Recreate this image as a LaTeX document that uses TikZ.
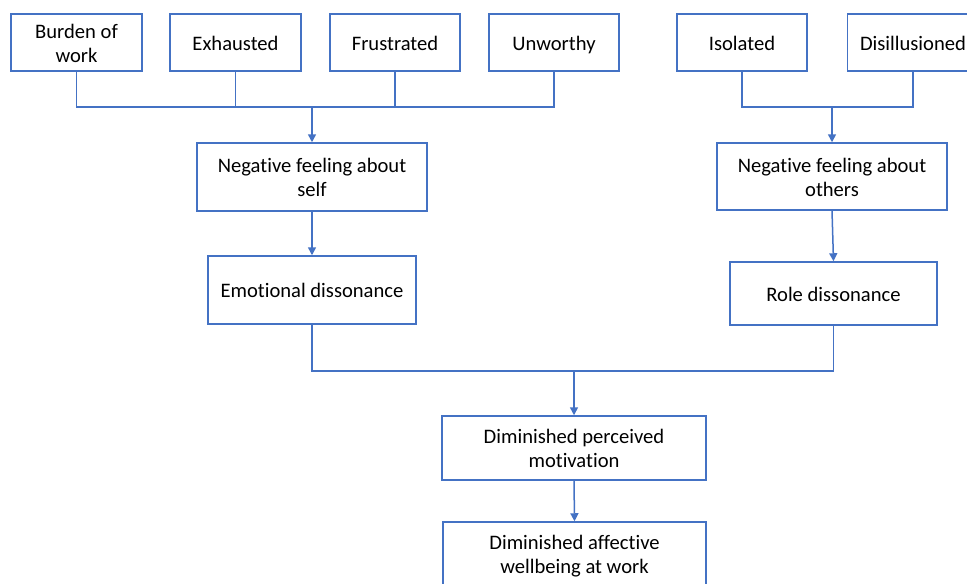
\documentclass[tikz,border=0pt]{standalone}
\usepackage{fontspec}
\setmainfont{Carlito}[Ligatures=CommonOff]
\usepackage{xcolor}
\usepackage{tikz}
\usetikzlibrary{arrows.meta}
\usetikzlibrary{positioning}
\definecolor{boxblue}{HTML}{4472C4}
\newcommand{\boxstrut}{\rule[-2.1pt]{0pt}{12pt}}
\tikzset{
    box/.style={draw=boxblue,line width=0.75pt,inner sep=0pt,align=center,
        font=\fontsize{10.3}{12.2}\selectfont,execute at begin node=\boxstrut,execute at end node=\boxstrut},
    twoline/.style={box,text height=22pt,text depth=2.1pt},
    link/.style={draw=boxblue,line width=0.75pt},
    flow/.style={link,-{Triangle[width=4pt,length=4pt]}}
}

\begin{document}
\begin{tikzpicture}[x=0.5pt,y=-0.5pt]
        \clip (0,0) rectangle (967,583);
        \fill[white] (0,0) rectangle (967,583);

        \node[twoline,minimum width=65.5pt,minimum height=28.5pt] (burden) at (76.5,42.5) {Burden of\\work};
        \node[box,minimum width=65.5pt,minimum height=28.5pt] (exhausted) at (235.5,42.5) {Exhausted};
        \node[box,minimum width=65pt,minimum height=28.5pt] (frustrated) at (395,42.5) {Frustrated};
        \node[box,minimum width=65pt,minimum height=28.5pt] (unworthy) at (554,42.5) {Unworthy};
        \node[box,minimum width=65pt,minimum height=28.5pt] (isolated) at (742,42.5) {Isolated};
        \node[box,minimum width=65.5pt,minimum height=28.5pt] (disillusioned) at (913,42.5) {Disillusioned};

        \node[twoline,minimum width=115pt,minimum height=34pt] (self) at (312,177) {Negative feeling about\\self};
        \node[twoline,minimum width=115pt,minimum height=33.5pt] (others) at (832,176.5) {Negative feeling about\\others};

        \node[box,minimum width=104pt,minimum height=34pt] (emotional) at (312,290) {Emotional dissonance};
        \node[box,minimum width=103.5pt,minimum height=31.5pt] (role) at (833.5,293.5) {Role dissonance};

        \node[twoline,minimum width=132pt,minimum height=32pt] (perceived) at (574,448) {Diminished perceived\\motivation};
        \node[twoline,minimum width=131.5pt,minimum height=32pt] (affective) at (574.5,554) {Diminished affective\\wellbeing at work};

        \coordinate (joinleft) at (312,107);
        \coordinate (joinright) at (832,107);
        \coordinate (joinbottom) at (574,371);

        \draw[link] (burden.south) |- (joinleft);
        \draw[link] (exhausted.south) |- (joinleft);
        \draw[link] (frustrated.south) |- (joinleft);
        \draw[link] (unworthy.south) |- (joinleft);
        \draw[flow] (joinleft) -- (self.north);

        \draw[link] (isolated.south) |- (joinright);
        \draw[link] (disillusioned.south) |- (joinright);
        \draw[flow] (joinright) -- (others.north);

        \draw[flow] (self.south) -- (emotional.north);
        \draw[flow] (others.south) -- (role.north);

        \draw[link] (emotional.south) |- (joinbottom);
        \draw[link] (role.south) |- (joinbottom);
        \draw[flow] (joinbottom) -- (perceived.north);
        \draw[flow] (perceived.south) -- (affective.north);
\end{tikzpicture}
\end{document}
